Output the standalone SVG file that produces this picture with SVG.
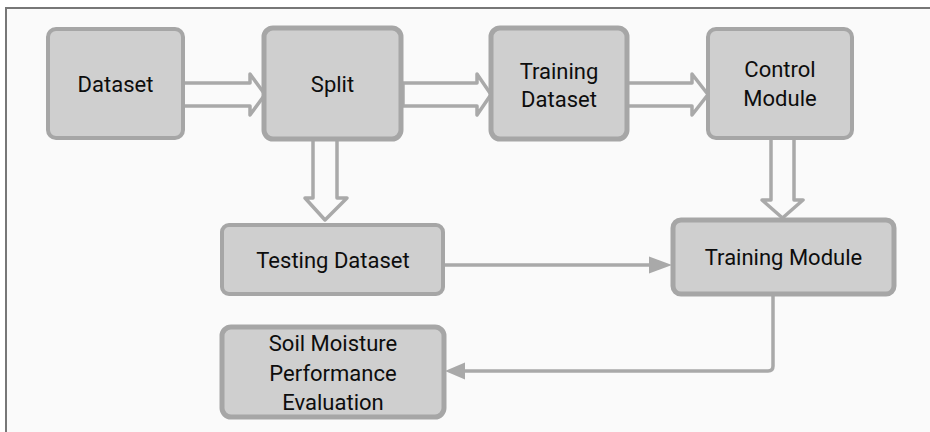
<svg xmlns="http://www.w3.org/2000/svg" width="930" height="432" viewBox="0 0 930 432">
<defs>
<style>
.box{fill:#cfcfcf;stroke:#a6a6a6;stroke-width:4}
.thick{stroke-width:5}
.t{font-family:Roboto,"Liberation Sans",sans-serif;font-size:22px;fill:#0d0d0d;text-anchor:middle}
.hollow{fill:#fafafa;stroke:#a9a9a9;stroke-width:3.5;stroke-linejoin:round}
.line{fill:none;stroke:#a9a9a9;stroke-width:3.5;stroke-linejoin:round}
.head{fill:#a9a9a9}
</style>
</defs>
<rect x="0" y="0" width="930" height="432" fill="#ffffff"/>
<rect x="6" y="8" width="924" height="424" fill="#fafafa"/>
<path d="M6 432 V8 H930" fill="none" stroke="#777" stroke-width="2"/>

<g id="connectors">
<path class="hollow" d="M183 83 H250 V74 L265 94.5 L250 115 V106 H183 Z"/>
<path class="hollow" d="M403 83 H477 V74 L491 94.5 L477 115 V106 H403 Z"/>
<path class="hollow" d="M627 83 H692 V74 L708 94.5 L692 115 V106 H627 Z"/>
<path class="hollow" d="M313 139 V198 H305 L325 220 L347 198 H337 V139 Z"/>
<path class="hollow" d="M771 138 V200 H762 L782.5 218 L803 200 H794 V138 Z"/>
<path class="line" d="M443 265 H652"/>
<path class="head" d="M672 265 L649 256.5 V273.5 Z"/>
<path class="line" d="M773 294 V366 Q773 371 768 371 H462"/>
<path class="head" d="M445 371 L465 362.5 V379.5 Z"/>
</g>

<g id="dataset">
<rect class="box" x="48" y="29" width="135" height="109" rx="8"/>
<text class="t" x="115.5" y="92">Dataset</text>
</g>
<g id="split">
<rect class="box thick" x="264" y="28" width="137" height="111" rx="9"/>
<text class="t" x="332.5" y="92">Split</text>
</g>
<g id="training-dataset">
<rect class="box thick" x="491" y="28" width="136" height="111" rx="9"/>
<text class="t" x="559" y="79">Training</text>
<text class="t" x="559" y="107">Dataset</text>
</g>
<g id="control-module">
<rect class="box" x="708" y="29" width="144" height="109" rx="8"/>
<text class="t" x="780" y="77">Control</text>
<text class="t" x="780" y="106">Module</text>
</g>
<g id="testing-dataset">
<rect class="box" x="222" y="225" width="221" height="69" rx="7"/>
<text class="t" x="333" y="268">Testing Dataset</text>
</g>
<g id="training-module">
<rect class="box thick" x="673" y="220" width="221" height="74" rx="8"/>
<text class="t" x="783.5" y="265">Training Module</text>
</g>
<g id="soil-moisture">
<rect class="box thick" x="222" y="327" width="222" height="90" rx="9"/>
<text class="t" x="333" y="351">Soil Moisture</text>
<text class="t" x="333" y="381">Performance</text>
<text class="t" x="333" y="410">Evaluation</text>
</g>
</svg>
